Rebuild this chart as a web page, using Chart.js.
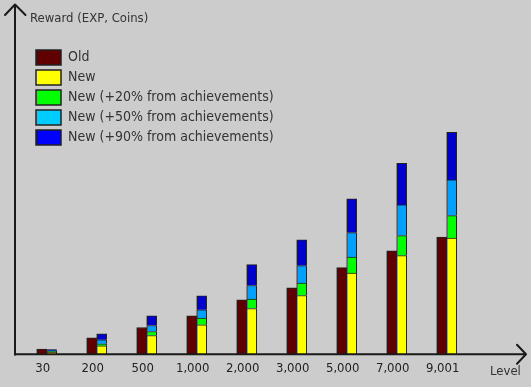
<!DOCTYPE html>
<html><head><meta charset="utf-8">
<script src="https://cdn.jsdelivr.net/npm/chart.js@4"></script>
<style>html,body{margin:0;padding:0;background:#cccccc;overflow:hidden;} canvas{display:block;}</style>
</head><body>
<canvas id="c" width="531" height="387"></canvas>
<script>
// ---- data (reward units) ----
const categories = ['30', '200', '500', '1,000', '2,000', '3,000', '5,000', '7,000', '9,001'];
const oldReward   = [57, 170, 273, 390, 550, 670, 873, 1040, 1177];
const newReward   = [27, 90, 193, 300, 463, 593, 817, 993, 1167];
const bonus20     = [5, 20, 40, 67, 94, 124, 160, 200, 226];
const bonus50     = [8, 40, 60, 83, 136, 176, 246, 307, 357];
const bonus90     = [12, 60, 97, 140, 210, 257, 337, 417, 477];
const seriesNames = ['Old', 'New', 'New (+20% from achievements)', 'New (+50% from achievements)', 'New (+90% from achievements)'];
const yAxisTitle = 'Reward (EXP, Coins)';
const xAxisTitle = 'Level';

const barColors    = ['#600000', '#ffff00', '#00ff00', '#00a0ff', '#0000cc'];
const legendColors = ['#600000', '#ffff00', '#00ff00', '#00ccff', '#0000ff'];
const FONT = "'DejaVu Sans Condensed', 'DejaVu Sans', sans-serif";
const INK = '#1a1a1a';

const seriesValues = [oldReward, newReward, bonus20, bonus50, bonus90];
const datasets = seriesValues.map((vals, i) => ({
  label: seriesNames[i],
  data: vals,
  backgroundColor: barColors[i],
  borderColor: '#222222',
  borderWidth: 1,
  stack: i === 0 ? 'old' : 'new',
  barThickness: 10
}));

const axesPlugin = {
  id: 'xkcdAxes',
  afterLayout(chart) {
    const lg = chart.legend;
    if (lg) { lg.left = 31; lg.top = 45; }
  },
  afterDatasetsDraw(chart) {
    const ctx = chart.ctx;
    const base = chart.scales.y.getPixelForValue(0);
    ctx.save();
    ctx.strokeStyle = INK;
    ctx.lineWidth = 2;
    ctx.lineJoin = 'round';
    ctx.lineCap = 'round';
    // y axis
    ctx.beginPath();
    ctx.moveTo(15, base);
    ctx.lineTo(15, 5);
    ctx.moveTo(5, 15);
    ctx.lineTo(15, 4.5);
    ctx.lineTo(25.5, 15);
    ctx.stroke();
    // x axis
    ctx.beginPath();
    ctx.moveTo(15, base - 0.5);
    ctx.lineTo(525, base - 0.5);
    ctx.moveTo(517, base - 10);
    ctx.lineTo(526, base - 0.5);
    ctx.lineTo(517, base + 9);
    ctx.stroke();
    // axis titles
    ctx.fillStyle = '#333333';
    ctx.textBaseline = 'middle';
    ctx.textAlign = 'left';
    ctx.font = '13px ' + FONT;
    ctx.fillText(yAxisTitle, 30, 18.5);
    ctx.fillText(xAxisTitle, 490, 372);
    ctx.restore();
  }
};

new Chart(document.getElementById('c'), {
  type: 'bar',
  data: { labels: categories, datasets },
  options: {
    responsive: false,
    devicePixelRatio: 1,
    animation: false,
    layout: { padding: { left: 21.7, right: 59.3, top: 30, bottom: 4.2 } },
    scales: {
      x: {
        stacked: true,
        offset: true,
        grid: { display: false, drawTicks: false },
        border: { display: false },
        ticks: { padding: 6.2, labelOffset: -4, color: '#222222', font: { family: FONT, size: 13 }, maxRotation: 0, autoSkip: false }
      },
      y: {
        stacked: true,
        display: false,
        min: 0,
        max: 3250
      }
    },
    plugins: {
      tooltip: { enabled: false },
      legend: {
        position: 'chartArea',
        align: 'start',
        labels: {
          boxWidth: 25,
          boxHeight: 15,
          padding: 5,
          color: '#333333',
          font: { family: FONT, size: 14 },
          generateLabels(chart) {
            const items = Chart.defaults.plugins.legend.labels.generateLabels(chart);
            items.forEach((it, i) => { it.fillStyle = legendColors[i]; it.strokeStyle = '#222222'; it.lineWidth = 1.5; });
            return items;
          }
        }
      }
    }
  },
  plugins: [axesPlugin]
});
</script>
</body></html>
